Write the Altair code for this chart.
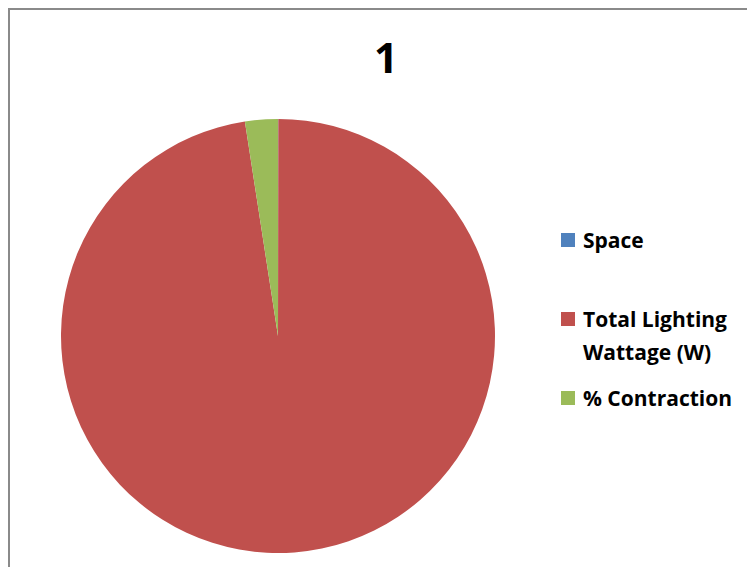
import altair as alt
import pandas as pd

categories = ["Space", "Total Lighting Wattage (W)", "% Contraction"]
legend_labels = ["Space", "Total Lighting|Wattage (W)", "% Contraction"]
values = [1, 4000, 100]
colors = ["#4F81BD", "#C0504D", "#9BBB59"]
title_text = ["1"]

df = pd.DataFrame({"category": categories, "value": values, "order": list(range(len(categories)))})
leg = pd.DataFrame({"category": categories, "label": legend_labels, "row": list(range(len(categories)))})

color_scale = alt.Scale(domain=categories, range=colors)

frame = alt.Chart(pd.DataFrame({"t": title_text})).mark_rect(
    fill="transparent", stroke="#8A8A8A", strokeWidth=2
).encode(x=alt.value(1), y=alt.value(1), x2=alt.value(3000), y2=alt.value(3000))

pie = alt.Chart(df).mark_arc(radius=217).encode(
    theta=alt.Theta("value:Q", stack=True),
    order=alt.Order("order:Q"),
    color=alt.Color("category:N", scale=color_scale, legend=None),
    x=alt.value(270),
    y=alt.value(328),
)

row_scale = alt.Scale(domain=[0, 2], range=[232, 390])

leg_sym = alt.Chart(leg).mark_square(size=196, opacity=1).encode(
    x=alt.value(560),
    y=alt.Y("row:Q", scale=row_scale, axis=None),
    color=alt.Color("category:N", scale=color_scale, legend=None),
)

leg_txt = alt.Chart(leg).transform_calculate(
    lines="split(datum.label, '|')"
).mark_text(
    font="Open Sans", fontWeight="bold", fontSize=21, color="#000000",
    align="left", baseline="alphabetic", dy=8, lineHeight=33
).encode(
    x=alt.value(575),
    y=alt.Y("row:Q", scale=row_scale, axis=None),
    text="lines:N",
)

title = alt.Chart(pd.DataFrame({"t": title_text})).mark_text(
    font="Open Sans", fontWeight="bold", fontSize=42, color="#000000",
    baseline="alphabetic", align="center"
).encode(text="t:N", x=alt.value(378), y=alt.value(65))

chart = alt.layer(frame, pie, leg_sym, leg_txt, title).properties(
    width=739, height=559, padding=0, background="white",
    autosize=alt.AutoSizeParams(type="none")
).configure_view(strokeWidth=0)

chart.save("out.html", embed_options={"renderer": "svg", "actions": False})
